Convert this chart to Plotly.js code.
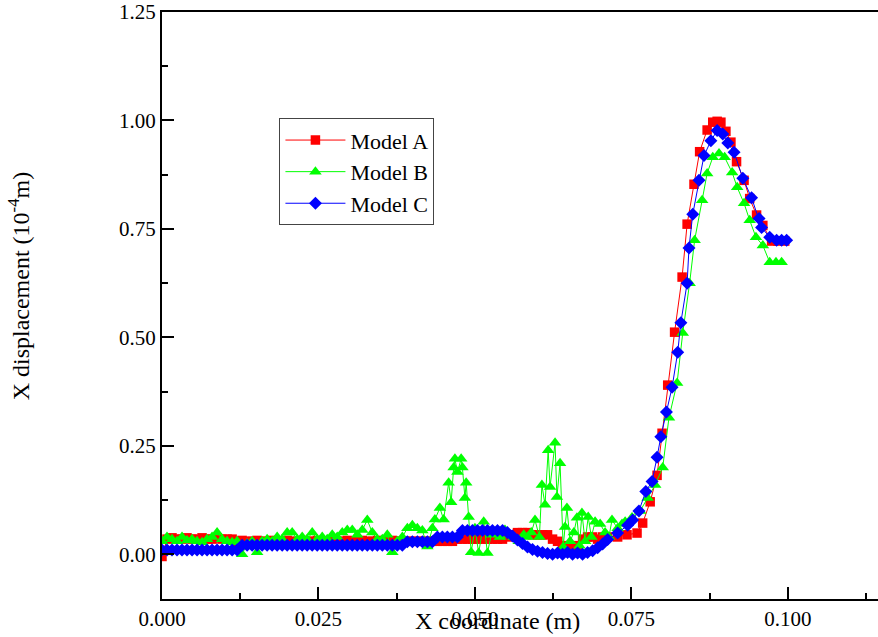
<!DOCTYPE html>
<html>
<head>
<meta charset="utf-8">
<script src="https://cdn.plot.ly/plotly-3.0.1.min.js"></script>
<style>html,body{margin:0;padding:0;background:#fff;}#chart{width:878px;height:637px;}</style>
</head>
<body>
<div id="chart"></div>
<script>
// Shared x grid for the flat part (m)
const xGrid = [0.0000,0.0008,0.0016,0.0024,0.0032,0.0040,0.0048,0.0056,0.0064,0.0072,
0.0080,0.0088,0.0096,0.0104,0.0112,0.0120,0.0128,0.0136,0.0144,0.0152,
0.0160,0.0168,0.0176,0.0184,0.0192,0.0200,0.0208,0.0216,0.0224,0.0232,
0.0240,0.0248,0.0256,0.0264,0.0272,0.0280,0.0288,0.0296,0.0304,0.0312,
0.0320,0.0328,0.0336,0.0344,0.0352,0.0360,0.0368,0.0376,0.0384,0.0392,
0.0400,0.0408,0.0416,0.0424,0.0432,0.0440,0.0448,0.0456,0.0464,0.0472,
0.0480,0.0488,0.0496,0.0504,0.0512,0.0520,0.0528,0.0536,0.0544,0.0552,
0.0560,0.0568,0.0576,0.0584,0.0592,0.0600,0.0608,0.0616,0.0624,0.0632,
0.0640,0.0648,0.0656,0.0664,0.0672,0.0680,0.0688,0.0696,0.0704,0.0712];

// Model A (red squares)
const yA_low = [-0.005,0.035,0.038,0.035,0.035,0.038,0.035,0.035,0.038,0.035,
0.035,0.038,0.035,0.035,0.035,0.030,0.032,0.030,0.030,0.032,
0.030,0.030,0.032,0.030,0.030,0.032,0.030,0.030,0.032,0.030,
0.030,0.032,0.030,0.030,0.032,0.030,0.030,0.032,0.030,0.030,
0.032,0.030,0.030,0.032,0.030,0.030,0.032,0.030,0.030,0.030,
0.030,0.030,0.030,0.030,0.030,0.030,0.030,0.030,0.030,0.035,
0.035,0.035,0.035,0.035,0.035,0.035,0.035,0.035,0.035,0.040,
0.045,0.050,0.050,0.050,0.045,0.045,0.045,0.045,0.035,0.030,
0.020,0.015,0.015,0.020,0.035,0.040,0.040,0.035,0.040,0.040];
const xA_high = [0.0728,0.0743,0.0759,0.0768,0.0780,0.0791,0.0799,0.0808,0.0819,0.0831,
0.0839,0.0850,0.0859,0.0871,0.0880,0.0887,0.0893,0.0901,0.0909,0.0918,
0.0930,0.0939,0.0950,0.0960,0.0974,0.0984,0.0995];
const yA_high = [0.040,0.045,0.049,0.072,0.121,0.182,0.279,0.390,0.512,0.639,
0.761,0.853,0.928,0.978,0.996,0.998,0.996,0.975,0.950,0.905,
0.862,0.820,0.782,0.758,0.722,0.722,0.722];

// Model B (green triangles)
const xB = [0.0000,0.0008,0.0016,0.0024,0.0032,0.0040,0.0048,0.0056,0.0064,0.0072,
0.0080,0.0088,0.0096,0.0104,0.0112,0.0120,0.0128,0.0136,0.0144,0.0152,
0.0160,0.0168,0.0176,0.0184,0.0192,0.0200,0.0208,0.0216,0.0224,0.0232,
0.0240,0.0248,0.0256,0.0264,0.0272,0.0280,0.0288,0.0296,0.0304,0.0312,
0.0320,0.0328,0.0336,0.0344,0.0352,0.0360,0.0368,0.0376,0.0384,0.0392,
0.0400,0.0408,0.0416,0.0424,0.0432,
0.0436,0.0444,0.0450,0.0458,0.0462,0.0466,0.0468,0.0472,0.0478,0.0480,
0.0484,0.0486,0.0490,0.0494,0.0500,0.0506,0.0514,0.0520,0.0526,0.0534,
0.0540,0.0548,0.0556,0.0562,0.0570,0.0578,0.0584,
0.0590,0.0596,0.0603,0.0607,0.0612,0.0617,0.0620,0.0628,0.0631,0.0636,
0.0641,0.0644,0.0647,0.0652,0.0658,0.0663,0.0667,0.0671,0.0676,0.0681,
0.0686,0.0692,0.0700,0.0708,0.0714,0.0719,0.0728,0.0735,
0.0740,0.0751,0.0764,0.0776,0.0788,0.0800,0.0810,0.0823,0.0832,0.0843,
0.0851,0.0863,0.0871,0.0880,0.0890,0.0899,0.0911,0.0919,0.0930,0.0939,
0.0949,0.0960,0.0971,0.0981,0.0990];
const yB = [0.030,0.040,0.035,0.030,0.040,0.032,0.035,0.030,0.028,0.035,
0.040,0.050,0.035,0.030,0.028,0.030,0.000,0.025,0.030,0.005,
0.030,0.035,0.030,0.040,0.035,0.050,0.050,0.035,0.040,0.035,
0.050,0.035,0.040,0.035,0.045,0.040,0.050,0.056,0.056,0.045,
0.056,0.079,0.050,0.035,0.035,0.045,0.005,0.030,0.040,0.060,
0.067,0.060,0.055,0.018,0.060,
0.080,0.107,0.080,0.165,0.120,0.200,0.220,0.190,0.220,0.200,
0.130,0.165,0.086,0.005,0.060,0.003,0.075,0.003,0.045,0.049,
0.040,0.056,0.045,0.040,0.030,0.045,0.040,
0.050,0.079,0.040,0.160,0.114,0.240,0.155,0.257,0.132,0.210,
0.017,0.063,0.107,0.030,0.050,0.084,0.020,0.095,0.030,0.086,
0.040,0.075,0.070,0.050,0.040,0.079,0.060,0.070,
0.075,0.085,0.100,0.130,0.160,0.200,0.315,0.395,0.510,0.625,
0.724,0.816,0.878,0.915,0.924,0.915,0.880,0.846,0.809,0.770,
0.731,0.712,0.673,0.673,0.673];

// Model C (blue diamonds)
const yC_low = [0.010,0.010,0.010,0.010,0.010,0.010,0.010,0.010,0.010,0.010,
0.010,0.010,0.010,0.010,0.010,0.010,0.021,0.021,0.021,0.021,
0.021,0.021,0.021,0.021,0.021,0.021,0.021,0.021,0.021,0.021,
0.021,0.021,0.021,0.021,0.021,0.021,0.021,0.021,0.021,0.021,
0.021,0.021,0.021,0.021,0.021,0.021,0.021,0.021,0.021,0.029,
0.029,0.029,0.029,0.029,0.029,0.040,0.040,0.040,0.040,0.040,
0.055,0.055,0.055,0.055,0.055,0.055,0.055,0.055,0.055,0.050,
0.042,0.033,0.025,0.017,0.011,0.007,0.004,0.002,0.000,0.003,
0.000,0.004,0.000,0.003,0.000,0.004,0.008,0.015,0.024,0.034];
const xC_high = [0.0728,0.0744,0.0752,0.0762,0.0773,0.0783,0.0791,0.0797,0.0806,0.0815,
0.0824,0.0829,0.0839,0.0842,0.0848,0.0858,0.0866,0.0877,0.0887,0.0896,
0.0904,0.0914,0.0928,0.0942,0.0954,0.0958,0.0971,0.0982,0.0990,0.0998];
const yC_high = [0.049,0.067,0.079,0.100,0.145,0.168,0.224,0.271,0.328,0.385,
0.466,0.534,0.625,0.706,0.784,0.862,0.919,0.953,0.977,0.969,
0.948,0.927,0.867,0.822,0.774,0.753,0.731,0.724,0.724,0.724];

const seriesNames = ['Model A','Model B','Model C'];
const xTickVals = [0, 0.025, 0.05, 0.075, 0.1];
const xTickText = ['0.000','0.025','0.050','0.075','0.100'];
const yTickVals = [0, 0.25, 0.5, 0.75, 1.0, 1.25];
const yTickText = ['0.00','0.25','0.50','0.75','1.00','1.25'];

const FONT = '"Liberation Serif", serif';

const traces = [
  {x: xGrid.concat(xA_high), y: yA_low.concat(yA_high), name: seriesNames[0], legendgroup: 'a', type: 'scatter', mode: 'lines+markers',
   line: {color: '#FF0000', width: 1}, marker: {symbol: 'square', size: 9.5, color: '#FF0000'}},
  {x: xB, y: yB, name: seriesNames[1], legendgroup: 'b', type: 'scatter', mode: 'lines+markers',
   line: {color: '#00FF00', width: 1}, marker: {symbol: 'triangle-up', size: 11, color: '#00FF00'}},
  {x: xGrid.concat(xC_high), y: yC_low.concat(yC_high), name: seriesNames[2], legendgroup: 'c', type: 'scatter', mode: 'lines+markers',
   line: {color: '#0000FF', width: 1}, marker: {symbol: 'diamond', size: 10, color: '#0000FF'}}
];

const layout = {
  width: 878, height: 637,
  margin: {l: 162, r: 0, t: 12, b: 38},
  paper_bgcolor: '#fff', plot_bgcolor: '#fff',
  font: {family: FONT, size: 21, color: '#000'},
  showlegend: true,
  legend: {x: 0.164, y: 0.819, xanchor: 'left', yanchor: 'top',
    bordercolor: '#444', borderwidth: 1, bgcolor: 'rgba(255,255,255,0)',
    font: {family: FONT, size: 22, color: '#000'}, itemwidth: 60,
    traceorder: 'grouped', tracegroupgap: 0},
  xaxis: {
    range: [0, 0.1144], tickvals: xTickVals, ticktext: xTickText,
    ticks: 'inside', ticklen: 12, tickwidth: 2, tickcolor: '#000',
    minor: {tickvals: [0.0125, 0.0375, 0.0625, 0.0875, 0.1125], ticks: 'inside', ticklen: 6, tickwidth: 2, tickcolor: '#000'},
    showline: true, linewidth: 2, linecolor: '#000', mirror: true,
    showgrid: false, zeroline: false,
    tickfont: {family: FONT, size: 21, color: '#000'}
  },
  yaxis: {
    range: [-0.103, 1.25], tickvals: yTickVals, ticktext: yTickText,
    ticks: 'inside', ticklen: 12, tickwidth: 2, tickcolor: '#000',
    minor: {tickvals: [0.125, 0.375, 0.625, 0.875, 1.125], ticks: 'inside', ticklen: 6, tickwidth: 2, tickcolor: '#000'},
    showline: true, linewidth: 2, linecolor: '#000', mirror: false,
    showgrid: false, zeroline: false,
    tickfont: {family: FONT, size: 21, color: '#000'}
  },
  annotations: [
    {text: 'X coordinate (m)', xref: 'paper', yref: 'paper', x: 0.469, y: -0.0375,
     xanchor: 'center', yanchor: 'middle', showarrow: false, font: {family: FONT, size: 24, color: '#000'}},
    {text: 'X displacement (10<sup>-4</sup>m)', xref: 'paper', yref: 'paper', x: -0.1994, y: 0.533,
     xanchor: 'center', yanchor: 'middle', textangle: -90, showarrow: false, font: {family: FONT, size: 24, color: '#000'}}
  ]
};

Plotly.newPlot('chart', traces, layout, {displayModeBar: false, staticPlot: true});
</script>
</body>
</html>
